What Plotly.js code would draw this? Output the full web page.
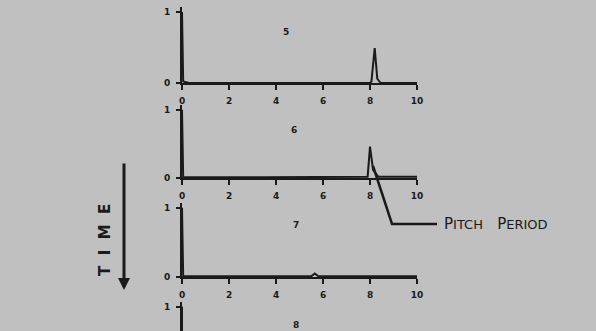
<!DOCTYPE html>
<html><head><meta charset="utf-8">
<script src="https://cdn.plot.ly/plotly-3.0.1.min.js"></script>
<style>html,body{margin:0;padding:0;background:#c0c0c0;}#chart{width:596px;height:331px;}</style>
</head><body><div id="chart"></div>
<script>
// Panel numbers
const panelLabels = ["5", "6", "7", "8"];
// Lag (x) and normalised value (y)
const lags5 = [0, 0.05, 0.3, 8.0, 8.06, 8.2, 8.31, 8.45, 10];
const vals5 = [1, 0.02, 0.0, 0.0, 0.02, 0.49, 0.06, 0.0, 0.0];
const lags6 = [0, 0.05, 3.5, 7.8, 7.9, 8.0, 8.13, 8.35, 10];
const vals6 = [1, 0.01, 0.01, 0.02, 0.02, 0.46, 0.12, 0.02, 0.02];
const lags7 = [0, 0.05, 5.5, 5.65, 5.8, 10];
const vals7 = [1, 0.01, 0.01, 0.05, 0.01, 0.01];
const lags8 = [0, 0];
const vals8 = [1, 0.6];
const xTicks = [0, 2, 4, 6, 8, 10];
const yTicks = [0, 1];

const ink = '#1a1a1a';
const series = [[lags5, vals5], [lags6, vals6], [lags7, vals7], [lags8, vals8]];
const traces = series.map((s, i) => ({
  x: s[0], y: s[1], type: 'scatter', mode: 'lines',
  line: {color: ink, width: 2}, cliponaxis: false,
  xaxis: i === 0 ? 'x' : 'x' + (i + 1), yaxis: i === 0 ? 'y' : 'y' + (i + 1),
  hoverinfo: 'skip', showlegend: false
}));

const W = 596, H = 331;
const py = p => 1 - p / H, px = p => p / W;
const xDom = [px(182), px(417)];
const yDoms = [
  [py(83), py(7), [0, 1.07]],
  [py(178), py(105), [0, 1.07]],
  [py(277), py(203), [0, 1.07]],
  [0, py(302), [0.652, 1.07]]
];
const tickFont = {family: 'DejaVu Sans', size: 9, color: ink, weight: 'bold'};
const layout = {
  width: W, height: H, margin: {l: 0, r: 0, t: 0, b: 0},
  paper_bgcolor: '#c0c0c0', plot_bgcolor: '#c0c0c0',
  showlegend: false, annotations: [], shapes: []
};
yDoms.forEach((d, i) => {
  const n = i === 0 ? '' : String(i + 1);
  layout['xaxis' + n] = {
    domain: xDom, range: [0, 10], anchor: 'y' + n, visible: i < 3,
    showline: true, linewidth: 2, linecolor: ink, ticks: 'outside', ticklen: 5,
    tickwidth: 1.5, tickcolor: ink, tickvals: xTicks, ticktext: xTicks.map(String),
    showgrid: false, zeroline: false, tickfont: tickFont, ticklabelstandoff: 3
  };
  layout['yaxis' + n] = {
    domain: [d[0], d[1]], range: d[2], anchor: 'x' + n,
    showline: true, linewidth: 2, linecolor: ink, ticks: 'outside', ticklen: 4,
    tickwidth: 1.5, tickcolor: ink, tickvals: yTicks, ticktext: yTicks.map(String),
    showgrid: false, zeroline: false, tickfont: tickFont, ticklabelstandoff: 4
  };
});
const labelPos = [[286, 32], [294, 130], [296, 225], [296, 325]];
panelLabels.forEach((t, i) => layout.annotations.push({
  text: t, xref: 'paper', yref: 'paper', x: px(labelPos[i][0]), y: py(labelPos[i][1]),
  xanchor: 'center', yanchor: 'middle',
  showarrow: false, font: {family: 'DejaVu Sans', size: 9, color: ink, weight: 'bold'}
}));
layout.annotations.push({
  text: 'P<span style="font-size:13px">ITCH</span>   P<span style="font-size:13px">ERIOD</span>',
  xref: 'paper', yref: 'paper', x: px(442), y: py(224), xanchor: 'left', yanchor: 'middle',
  showarrow: false, font: {family: 'DejaVu Sans', size: 15, color: ink}
});
layout.annotations.push({
  text: 'T&nbsp; I&nbsp; M&nbsp; E', xref: 'paper', yref: 'paper', x: px(105), y: py(240), textangle: -90,
  xanchor: 'center', yanchor: 'middle',
  showarrow: false, font: {family: 'DejaVu Sans', size: 15, color: ink, weight: 'bold'}
});
layout.annotations.push({
  text: '', xref: 'paper', yref: 'paper', x: px(124), y: py(290), ax: 0, ay: -128,
  showarrow: true, arrowhead: 2, arrowwidth: 3, arrowsize: 0.8, arrowcolor: ink
});
layout.shapes.push({
  type: 'path', xref: 'paper', yref: 'paper',
  path: `M ${px(373)} ${py(166)} L ${px(392)} ${py(224)} L ${px(437)} ${py(224)}`,
  line: {color: ink, width: 2.5}
});
Plotly.newPlot('chart', traces, layout, {staticPlot: true, displayModeBar: false});
</script></body></html>
